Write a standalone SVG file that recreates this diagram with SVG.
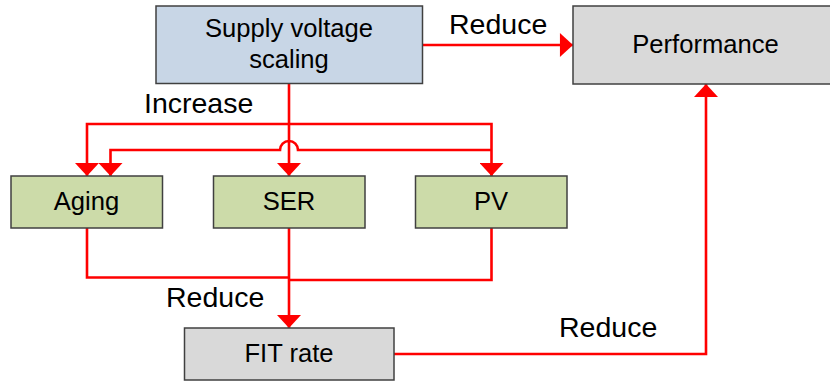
<svg xmlns="http://www.w3.org/2000/svg" width="830" height="382" viewBox="0 0 830 382">
<style>
.box{stroke:#404040;stroke-width:1.5}
.blue{fill:#c8d6e6}
.gray{fill:#d9d9d9}
.green{fill:#ccdba9}
.lbl{font-family:"Liberation Sans",Arial,sans-serif;font-size:25.6px;fill:#000;text-anchor:middle}
.elbl{font-family:"Liberation Sans",Arial,sans-serif;font-size:28.5px;fill:#000}
.wire{fill:none;stroke:#ff0000;stroke-width:2.6}
</style>
<defs>
<marker id="ah" markerUnits="userSpaceOnUse" markerWidth="14" markerHeight="24" viewBox="0 0 12 22" refX="12" refY="11" orient="auto">
<path d="M0,0 L12,11 L0,22 Z" fill="#ff0000"/>
</marker>
</defs>
<g id="connectors">
<path class="wire" d="M422,45 H573" marker-end="url(#ah)"/>
<path class="wire" d="M289,84 V176" marker-end="url(#ah)"/>
<path class="wire" d="M289,124 H87 V176" marker-end="url(#ah)"/>
<path class="wire" d="M289,124 H491.5 V176" marker-end="url(#ah)"/>
<path class="wire" d="M491.5,150 H298 A9,9 0 0 0 280,150 H110.5 V176" marker-end="url(#ah)"/>
<path class="wire" d="M87,228 V277.5 H289"/>
<path class="wire" d="M491.5,228 V280 H289"/>
<path class="wire" d="M289,228 V328" marker-end="url(#ah)"/>
<path class="wire" d="M394,354 H706 V84" marker-end="url(#ah)"/>
</g>
<g id="supply">
<rect class="box blue" x="156" y="6" width="266.5" height="77.5"/>
<text class="lbl" x="289" y="36.5">Supply voltage</text>
<text class="lbl" x="289" y="68">scaling</text>
</g>
<g id="performance">
<rect class="box gray" x="573" y="6" width="265" height="78"/>
<text class="lbl" x="705.5" y="53">Performance</text>
</g>
<g id="aging">
<rect class="box green" x="11" y="176" width="151.5" height="52"/>
<text class="lbl" x="86.5" y="210">Aging</text>
</g>
<g id="ser">
<rect class="box green" x="213.5" y="176" width="151.5" height="52"/>
<text class="lbl" x="289" y="210">SER</text>
</g>
<g id="pv">
<rect class="box green" x="415.5" y="176" width="151.5" height="52"/>
<text class="lbl" x="491" y="210">PV</text>
</g>
<g id="fit">
<rect class="box gray" x="184.5" y="328" width="209.5" height="52"/>
<text class="lbl" x="289" y="361.5">FIT rate</text>
</g>
<g id="labels">
<text class="elbl" x="449" y="34">Reduce</text>
<text class="elbl" x="144" y="113">Increase</text>
<text class="elbl" x="166" y="307">Reduce</text>
<text class="elbl" x="559" y="337">Reduce</text>
</g>
</svg>
